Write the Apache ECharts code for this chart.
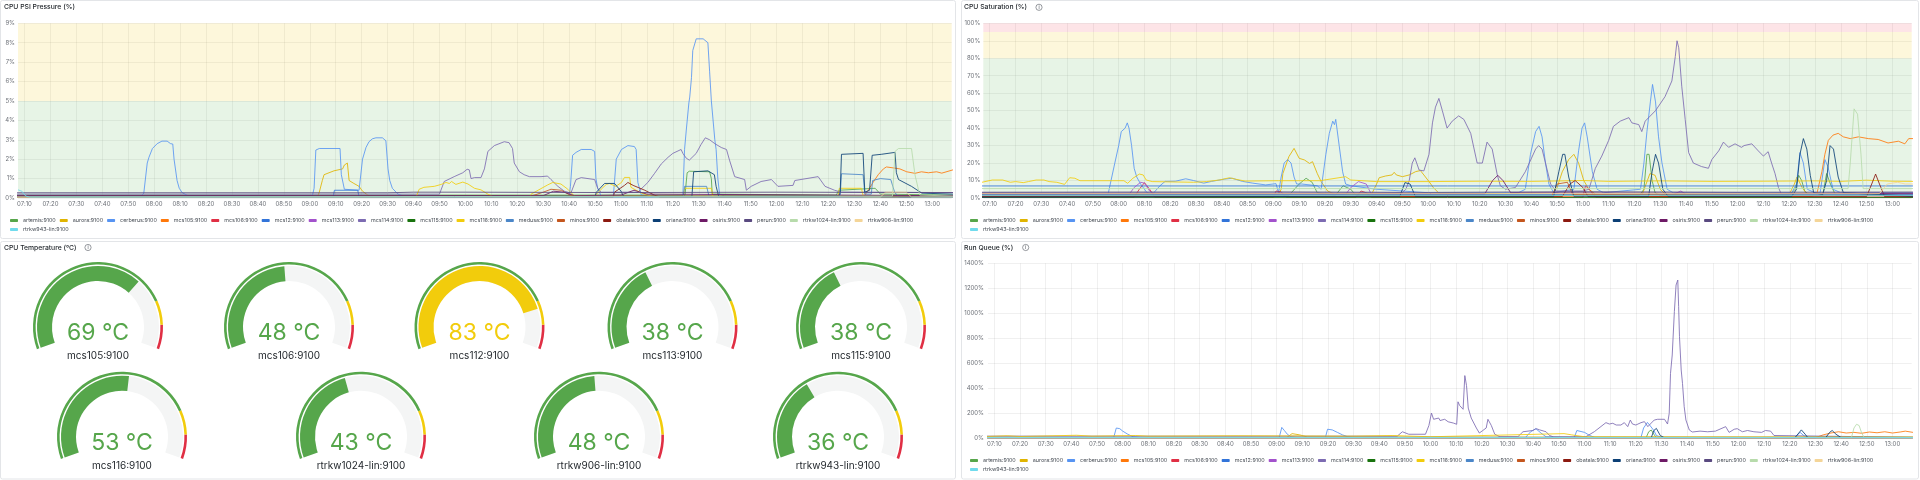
<!DOCTYPE html>
<html><head><meta charset="utf-8">
<script src="https://cdn.jsdelivr.net/npm/echarts@6/dist/echarts.min.js"></script>
<style>html,body{margin:0;padding:0;background:#fff}#c{width:1920px;height:480px}</style>
</head><body><div id="c"></div>
<script>
// ---------- shared ----------
const NAMES = ['artemis:9100','aurora:9100','cerberus:9100','mcs105:9100','mcs106:9100','mcs12:9100','mcs113:9100','mcs114:9100','mcs115:9100','mcs116:9100','medusa:9100','minos:9100','obatala:9100','oriana:9100','osiris:9100','perun:9100','rtrkw1024-lin:9100','rtrkw906-lin:9100','rtrkw943-lin:9100'];
const timeTicks = ['07:10','07:20','07:30','07:40','07:50','08:00','08:10','08:20','08:30','08:40','08:50','09:00','09:10','09:20','09:30','09:40','09:50','10:00','10:10','10:20','10:30','10:40','10:50','11:00','11:10','11:20','11:30','11:40','11:50','12:00','12:10','12:20','12:30','12:40','12:50','13:00'];
const timeRange = ['07:07:30','13:07:30'];

// ---------- CPU PSI Pressure (%) ----------
const psiThresholds = [0,5,9];
const psi_artemis = [['07:07',0.15],['11:24:40',0.15],['11:25:30',1.3],['11:26:20',1.38],['11:34:10',1.35],['11:34:50',1.0],['11:35:10',0.2],['12:23',0.15],['12:24',0.4],['12:38',0.5],['12:40',0.2],['13:08',0.15]];
const psi_aurora = [['07:07',0.05],['09:03',0.05],['09:03:40',0.3],['09:04:50',0.9],['09:05:30',1.2],['09:09:20',1.4],['09:12:40',1.5],['09:13:20',1.7],['09:14:30',1.8],['09:15:10',0.9],['09:17',0.75],['09:19',0.6],['09:20:20',0.35],['09:22:20',0.15],['09:24',0.05],['13:08',0.05]];
const psi_cerberus = [['07:07',0.1],['07:55',0.1],['07:56',0.25],['07:57:20',1.8],['07:58',2.1],['07:59:20',2.55],['08:01:10',2.8],['08:03',2.93],['08:05',2.93],['08:06:20',2.8],['08:07:10',2.78],['08:07:40',2.0],['08:08:50',0.9],['08:09:40',0.5],['08:10:50',0.27],['08:13',0.12],
 ['09:01',0.12],['09:01:40',0.5],['09:02:20',2.47],['09:03:40',2.55],['09:11:40',2.55],['09:12:10',1.2],['09:13:20',0.45],['09:19',0.4],['09:20:20',2.0],['09:21:40',2.6],['09:22:50',2.9],['09:24:10',3.05],['09:25:30',3.1],['09:28',3.1],['09:29:20',2.95],['09:30:10',1.5],['09:30:50',0.9],['09:31:50',0.5],['09:34',0.2],['09:36',0.1],
 ['10:40',0.1],['10:40:30',0.6],['10:41:20',2.2],['10:42:40',2.35],['10:44:40',2.5],['10:48:30',2.5],['10:49:50',2.4],['10:50:20',1.0],['10:51',0.5],['10:52:20',0.1],
 ['10:57',0.1],['10:57:10',0.3],['10:58:10',2.0],['11:00:10',2.5],['11:02:40',2.7],['11:05:10',2.65],['11:05:50',2.5],['11:06:30',0.8],['11:07:50',0.15],
 ['11:23:50',0.1],['11:24:30',2.5],['11:25:10',3.5],['11:26:10',4.9],['11:26:30',5.2],['11:27:10',6.2],['11:27:40',7.6],['11:29',8.2],['11:31:40',8.2],['11:33:30',8.0],['11:34:10',6.5],['11:34:50',5.0],['11:36:10',3.0],['11:36:40',2.5],['11:37:20',1.0],['11:38',0.2],['11:40',0.1],['13:08',0.1]];
const psi_mcs105 = [['07:07',0.06],['12:33',0.08],['12:34',0.15],['12:35:20',0.4],['12:37:10',0.8],['12:39:10',1.2],['12:41:10',1.5],['12:42:20',1.6],['12:45',1.55],['12:47:30',1.5],['12:50:10',1.35],['12:53:20',1.27],['12:55:50',1.35],['12:58:30',1.3],['13:01:40',1.35],['13:03:40',1.28],['13:08',1.45]];
const psi_mcs106 = [['07:07',0.1],['13:08',0.1]];
const psi_mcs12 = [['07:07',0.03],['09:09',0.03],['09:09:30',0.4],['09:18:30',0.4],['09:19',0.03],['13:08',0.03]];
const psi_mcs113 = [['07:07',0.04],['13:08',0.04]];
const psi_mcs114 = [['07:07',0.2],['09:50',0.2],['09:50:40',0.3],['09:51:50',0.85],['09:52:30',0.95],['09:55:40',1.1],['09:59',1.3],['10:00:40',1.48],['10:01:30',1.45],['10:02:10',1.0],['10:03:30',1.05],['10:06',1.05],
 ['10:07:20',1.5],['10:08:40',2.4],['10:11:10',2.7],['10:15',2.9],['10:16:50',2.85],['10:18:10',2.55],['10:18:50',1.8],['10:20:50',1.35],['10:22:40',1.2],['10:24:40',1.1],['10:29:10',1.1],['10:31:40',1.13],['10:33',0.95],['10:35:40',0.6],['10:38:10',0.35],['10:40:40',0.25],['10:42:40',0.95],['10:44:40',1.05],['10:49:50',0.95],['10:51',0.5],['10:52:20',0.3],
 ['11:06:30',0.3],['11:10:20',0.8],['11:12:50',1.25],['11:15:30',1.75],['11:18:10',2.1],['11:20',2.3],['11:23:10',2.5],['11:23:50',2.3],['11:25:10',2.05],['11:26:20',1.95],['11:29',2.3],['11:30:50',2.75],['11:32:30',3.1],['11:34:10',3.0],['11:36:10',2.8],['11:38:40',2.6],['11:40:40',2.5],['11:41:50',1.95],['11:43:50',1.1],['11:47:40',0.95],['11:48:20',0.4],['11:50:10',0.6],['11:54',0.85],['11:58',0.95],['12:00:30',0.6],['12:06:20',0.65],['12:07',0.9],['12:16',1.1],['12:18:40',0.6],['12:22:20',0.4],['12:25',0.3],['13:08',0.28]];
const psi_mcs115 = [['07:07',0.1],['13:08',0.1]];
const psi_mcs116 = [['07:07',0.05],['09:41',0.05],['09:42:10',0.45],['09:44',0.55],['09:48',0.6],['09:50:40',0.7],['09:52:30',0.8],['09:53:50',0.75],['09:54:40',0.85],['09:56:20',0.7],['09:59',0.82],['10:01',0.72],['10:03:30',0.5],['10:06',0.42],['10:08:40',0.2],['10:11',0.05],
 ['10:25',0.05],['10:25:20',0.2],['10:31:40',0.67],['10:33:40',0.8],['10:36:50',0.72],['10:39:30',0.45],['10:42',0.1],
 ['10:49:50',0.1],['10:52:20',0.45],['10:54:20',0.7],['10:55:30',0.75],['10:58',0.6],['11:00:10',0.8],['11:01:20',1.06],['11:03:20',1.06],['11:03:50',0.55],['11:07:50',0.25],['11:12:50',0.05],
 ['11:24',0.05],['11:24:30',0.5],['11:34:50',0.5],['11:35:30',0.05],['12:23:40',0.05],['12:24:10',0.5],['12:32:40',0.5],['12:33:30',0.05],['13:08',0.05]];
const psi_medusa = [['07:07',0.05],['11:24',0.05],['11:24:30',0.6],['11:33',0.6],['11:34',0.05],['12:24:30',0.05],['12:25',1.25],['12:33:20',1.2],['12:34',0.2],['12:36:30',0.2],['12:37',0.9],['12:40',1.0],['12:44',0.95],['12:45:30',0.3],['12:47',0.05],['13:08',0.05]];
const psi_minos = [['07:07',0.08],['10:25',0.08],['10:30',0.3],['10:33',0.45],['10:37',0.4],['10:41',0.1],['13:08',0.08]];
const psi_obatala = [['07:07',0.05],['10:57',0.05],['10:57:30',0.3],['11:01:20',0.65],['11:02:40',0.8],['11:04:40',0.65],['11:09:10',0.4],['11:12:50',0.15],['11:15',0.05],['13:08',0.05]];
const psi_oriana = [['07:07',0.08],['10:50',0.08],['10:50:30',0.3],['10:53:40',0.75],['10:57:30',0.75],['11:00',0.35],['11:01',0.08],['11:27:20',0.08],['11:28',1.35],['11:33:30',1.4],['11:36',1.2],['11:36:40',0.6],['11:37:40',0.08],['12:24',0.1],['12:24:30',0.3],['12:25',2.25],['12:33:20',2.3],['12:34',0.3],['12:35:50',0.4],['12:36:50',2.2],['12:40:20',2.25],['12:45:40',2.35],['12:46:10',1.3],['12:47',0.95],['12:52',0.6],['12:56',0.25],['13:08',0.2]];
const psi_osiris = [['07:07',0.12],['10:30',0.12],['10:34',0.35],['10:38',0.3],['10:42',0.12],['11:00',0.15],['11:05',0.4],['11:10',0.2],['13:08',0.12]];
const psi_perun = [['07:07',0.27],['09:30',0.27],['09:40',0.3],['10:00',0.3],['11:00',0.28],['12:00',0.3],['13:08',0.28]];
const psi_rtrkw1024 = [['07:07',0.05],['12:44:40',0.1],['12:45:40',2.4],['12:47',2.55],['12:52',2.55],['12:53:20',1.2],['12:55:10',0.15],['13:08',0.1]];
const psi_rtrkw906 = [['07:07',0.05],['12:40',0.05],['12:42',0.3],['12:50',0.3],['12:52',0.05],['13:08',0.05]];
const psi_rtrkw943 = [['07:07:30',0.42],['07:09',0.35],['07:10:30',0.1],['07:12',0.05],['13:08',0.05]];

// ---------- CPU Saturation (%) ----------
const satThresholds = [0,80,95,100];
const sat_artemis = [['07:07',1.5],['09:06',1.5],['09:10',8],['09:12:40',11.3],['09:15',9],['09:17',3],['09:24',1.5],['09:27',7],['09:30',5],['09:32',1.5],['11:22',1.5],['11:23:40',5],['11:24:50',25],['11:25:40',25],['11:26:50',10],['11:28',3],['11:30',1.5],['12:20',1.5],['12:22:20',5],['12:23:40',13],['12:24:50',10],['12:26',4],['12:28',1.5],['12:33',1.5],['12:34:30',14],['12:36',8],['12:38',1.5],['13:08',1.5]];
const sat_aurora = [['07:07',2.0],['09:02',2.0],['09:03',5],['09:03:40',14],['09:06',23.7],['09:08',28.4],['09:08:40',29.4],['09:10',22.7],['09:12',21.8],['09:14',19.8],['09:15:10',20.8],['09:17',14],['09:18:30',9.4],['09:21',4],['09:24',2],['09:38',2],['09:40',8],['09:41',11.6],['09:43:30',12.6],['09:46',13.2],['09:46:50',14.7],['09:47:40',13.2],['09:50',12.2],['09:52:40',13.2],['09:55:10',15.1],['09:57',15.7],['09:58:20',13.2],['10:00:20',9.4],['10:02',6],['10:04',3],['10:48',2],['10:50',6],['10:52',15],['10:54:30',22],['10:56:30',25],['10:58:20',20],['11:00:20',10],['11:02:20',5],['11:05',2],['11:23',2],['11:25',10],['11:26',14],['11:28',13],['11:30',5],['11:32',2],['12:20',2],['12:22',8],['12:23',12],['12:25',6],['12:27',2],['13:08',2]];
const sat_cerberus = [['07:07',1.0],['07:55',1.0],['07:56',3],['07:58:30',20],['08:00',30],['08:01',38],['08:02:30',40],['08:03:20',43],['08:04',40],['08:05',30],['08:06',17],['08:07',12],['08:08:30',8],['08:11',3],['08:13',2],['08:16',7],['08:18',9.5],['08:22',9.6],['08:26',11.0],['08:29',10],['08:33',8.5],['08:36',9.5],['08:41',10.8],['08:44',11.3],['08:48',9.5],['08:52',8.5],['08:57',7.5],['09:01',8.2],['09:02',3],['09:03',12],['09:04:10',20],['09:05:30',22],['09:06:50',20],['09:08',12],['09:09',8],['09:11',8],['09:17',7],['09:18:30',5],['09:20:20',25],['09:21:40',37],['09:23',44],['09:23:40',42],['09:24:10',45],['09:25:30',30],['09:26:50',15],['09:28',8],['09:30',7],['09:40',5],['10:00',3],
 ['10:35',3],['10:37:40',5],['10:39:40',25],['10:41:40',38],['10:43',41],['10:44:10',35],['10:45:30',20],['10:46:50',8],['10:48:40',3],['10:56:30',5],['10:58:20',27],['10:59:40',40],['11:00:40',43],['11:01:40',35],['11:03:40',15],['11:05:30',5],['11:08',3],
 ['11:22:20',5],['11:23:40',20],['11:24:50',38],['11:26:10',55],['11:27',65],['11:28:10',55],['11:29:20',35],['11:30:40',20],['11:32:40',5],['11:35',3],['12:21',3],['12:22:50',8],['12:24:10',26],['12:25:30',20],['12:27',5],['12:30',3],['12:32',3],['12:33:50',22],['12:35',18],['12:37',5],['12:40',3],['13:08',3]];
const sat_mcs105 = [['07:07',1.0],['12:29',1.0],['12:30:40',2],['12:32:40',15],['12:33:50',25],['12:35:10',33],['12:37',36],['12:39',37],['12:41',35],['12:43:40',34],['12:46:50',35],['12:50:40',34],['12:54:30',33.5],['12:58:20',31.5],['13:02:20',32.5],['13:04:50',31],['13:06:20',34],['13:08',34]];
const sat_mcs106 = [['07:07',0.5],['08:06',0.5],['08:08',5],['08:10',8.8],['08:12',5],['08:14',0.5],['09:00',0.5],['09:01',4],['09:03',3.5],['09:05',0.5],['09:32',0.5],['09:34',4],['09:36',3],['09:38',0.5],['11:00',0.5],['11:01',7],['11:03',4],['11:05',0.5],['13:08',0.5]];
const sat_mcs12 = [['07:07',6.9],['13:08',6.9]];
const sat_mcs113 = [['07:07',2],['08:04',2],['08:06',6],['08:08:30',9],['08:10',8.5],['08:12',4],['08:14',2],['09:28',2],['09:30',6],['09:33',9.4],['09:36',8],['09:38',2],['11:35',2],['11:38',4],['11:40',2],['13:08',2]];
const sat_mcs114 = [['07:07',3.0],['09:50',3.0],['09:51:20',5],['09:52:40',10],['09:53:50',20],['09:54:50',23],['09:56:30',16],['09:58:20',15.5],['10:00:20',25],['10:01:40',43],['10:02:50',52],['10:04:10',57],['10:05:30',50],['10:07:20',40],['10:09:20',44],['10:11:50',47],['10:13:50',45],['10:16:30',37],['10:19',20],['10:21',20],['10:22:50',32],['10:24:50',28],['10:26:50',13],['10:28',7],['10:30',5],['10:33:50',6],['10:37:40',15],['10:41:40',28],['10:42:50',30],['10:44:10',28],['10:45:30',20],['10:47:30',8],['10:49:30',4],['11:00',4],['11:02:20',5],['11:04:50',17],['11:07:20',24],['11:10',33],['11:11:50',41],['11:14:30',44],['11:17:50',46],['11:19',43],['11:21:40',42],['11:22:50',38],['11:24:10',44],['11:28:10',50],['11:31:50',58],['11:34:30',67],['11:35:50',81],['11:36:30',90],['11:37:10',86],['11:38:20',64],['11:39:40',45],['11:41',26],['11:42:50',20],['11:46',18],['11:48:40',17],['11:50',22],['11:52:40',27],['11:54:30',32],['11:56:30',29],['11:59',31],['12:01:30',29],['12:02:30',30],['12:05:30',31],['12:08',27],['12:10',24],['12:11:50',26.5],['12:13:10',20],['12:14:30',14],['12:15:50',6],['12:17',2],['12:20',2.5],['12:40',3],['13:08',3]];
const sat_mcs115 = [['07:07',0.3],['13:08',0.3]];
const sat_mcs116 = [['07:07',9.0],['07:11',10.3],['07:15',10.3],['07:18',9.0],['07:20',9.4],['07:23',8.8],['07:25',9.4],['07:28',10.3],['07:31',10.3],['07:33',9.4],['07:36',9.0],['07:39',7.8],['07:41',11.6],['07:43',11.3],['07:45',9.9],['08:02',9.9],['08:03:30',8.4],['08:05:30',11.3],['08:08',13.7],['08:09:30',13.2],['08:10:40',10.3],['08:13',9.4],['08:29',9.0],['08:34',9.4],['08:39',10.3],['08:43',11.6],['08:45:30',10.7],['08:49',9.7],['09:02',9.9],['09:18',9.9],['09:28',12.2],['09:30',10.3],['09:40',9.4],['10:00',9.4],['10:20',9.6],['10:40',9.5],['11:00',10],['11:10',9.5],['11:30',9.8],['11:50',9.5],['12:10',9.6],['12:30',9.8],['12:40',9.5],['12:50',10.2],['13:00',9.6],['13:08',9.5]];
const sat_medusa = [['07:07',2],['13:08',2]];
const sat_minos = [['07:07',1.2],['10:48',1.2],['10:50',8],['10:54',9],['10:56',2],['13:08',1.2]];
const sat_obatala = [['07:07',0.8],['10:52',0.8],['10:55',8],['10:57',10],['11:00',6],['11:02',0.8],['12:50',0.8],['12:52',8],['12:53:30',13.7],['12:55',8],['12:57',0.8],['13:08',0.8]];
const sat_oriana = [['07:07',0.5],['09:49',1],['09:51',8.8],['09:53',8],['09:55',1],['10:48:40',1],['10:50:40',15],['10:52:10',25],['10:53',25],['10:54:30',12],['10:56:30',1],['11:25:30',1],['11:26:50',15],['11:28:10',25],['11:29:20',20],['11:31',5],['11:33',1],['12:21',1],['12:22:50',5],['12:24:10',25],['12:25:30',34],['12:26:50',28],['12:28:10',13],['12:29:30',3],['12:33',2],['12:34:30',10],['12:35:50',30],['12:37:10',28],['12:39',12],['12:41',3],['13:08',1]];
const sat_osiris = [['07:07',2.5],['10:22',2.5],['10:25',10],['10:27',13],['10:29',10],['10:32',3],['13:08',2.5]];
const sat_perun = [['07:07',3.3],['09:00',3.5],['10:00',3.2],['11:00',3.6],['12:00',3.3],['13:08',3.4]];
const sat_rtrkw1024 = [['07:07',5.4],['12:42:50',5.4],['12:43:40',20],['12:45:10',51],['12:46:30',48],['12:47:50',25],['12:48:40',5.4],['13:08',5.4]];
const sat_rtrkw906 = [['07:07',2.5],['12:55',2.5],['12:58',8],['13:02',9],['13:05',8],['13:08',8]];
const sat_rtrkw943 = [['07:07',1.5],['13:08',1.5]];

// ---------- Run Queue (%) ----------
const rq_artemis = [['07:07',3],['11:24',3],['11:25',50],['11:26',64],['11:27',30],['11:28',3],['13:08',3]];
const rq_aurora = [['07:07',5],['09:04',5],['09:06',35],['09:09',25],['09:12',8],['13:08',5]];
const rq_cerberus = [['07:07',5],['07:56:30',5],['07:57:30',80],['07:58:50',75],['08:00',55],['08:02',30],['08:04',10],['08:07',5],['09:01',5],['09:01:30',20],['09:02',85],['09:03',60],['09:04:10',30],['09:05:30',10],['09:08',5],['09:19',5],['09:19:50',70],['09:21:40',65],['09:23:40',45],['09:25:40',25],['09:27:40',10],['09:30',5],['10:37',5],['10:39',50],['10:41',75],['10:43',40],['10:45',10],['10:56',5],['10:57',60],['11:00',45],['11:02',20],['11:04',5],['11:22',5],['11:23',80],['11:24:30',125],['11:25:30',100],['11:27',60],['11:28',20],['11:30',5],['12:22',5],['12:24',45],['12:26',10],['13:08',5]];
const rq_mcs105 = [['07:07',3],['12:30',3],['12:33',25],['12:36',40],['12:39',50],['12:42',40],['12:45',45],['12:48',38],['12:51',48],['12:54',42],['12:57',50],['13:00',40],['13:03',48],['13:05',55],['13:08',45]];
const rq_mcs106 = [['07:07',4],['13:08',4]];
const rq_mcs12 = [['07:07',3],['13:08',3]];
const rq_mcs113 = [['07:07',4],['13:08',4]];
const rq_mcs114 = [['07:07',15],['09:47',15],['09:49',50],['09:51:30',30],['09:58',30],['09:59:20',100],['10:00:20',200],['10:01:10',150],['10:03:10',160],['10:03:40',140],['10:05:30',150],['10:06:50',130],['10:08:50',120],['10:10:10',110],['10:10:40',290],['10:11:20',260],['10:12:40',230],['10:13:20',500],['10:14',420],['10:14:40',240],['10:15:50',160],['10:17:50',80],['10:19',40],['10:20:20',60],['10:21:40',80],['10:22:20',150],['10:23:40',100],['10:25',30],['10:27',10],['10:34',10],['10:36',50],['10:39:50',60],['10:41:10',75],['10:42:30',65],['10:45',50],['10:46:20',20],['10:48',8],
 ['11:00:30',10],['11:03:50',51],['11:08:20',123],['11:09:40',112],['11:11',118],['11:12:20',104],['11:14:10',104],['11:15:30',123],['11:16:10',131],['11:16:50',91],['11:17:50',144],['11:18:40',112],['11:20',104],['11:22',123],['11:23:20',131],['11:24:40',91],['11:26',120],['11:27:10',144],['11:28:30',150],['11:31:10',150],['11:32:20',112],['11:33',198],['11:33:30',518],['11:34:10',665],['11:34:20',670],['11:35',1013],['11:35:40',1226],['11:36:20',1266],['11:36:40',1053],['11:37',812],['11:37:40',545],['11:38:10',438],['11:38:50',251],['11:39:30',144],['11:40:50',64],['11:42',48],['11:45',55],['11:48',50],['11:51',55],['11:55',91],['11:56:20',45],['11:58:20',70],['11:59:30',75],['12:01:30',50],['12:03:30',60],['12:06',50],['12:09',45],['12:10:30',60],['12:12:30',55],['12:13:50',20],['12:14:30',5],['13:08',5]];
const rq_mcs115 = [['07:07',2],['13:08',2]];
const rq_mcs116 = [['07:07',12],['07:15',18],['07:20',12],['07:42',22],['07:48',15],['08:05',20],['08:10',15],['08:45',18],['09:30',15],['09:45',20],['10:00',10],['10:52',35],['10:55',25],['11:00',10],['13:08',8]];
const rq_medusa = [['07:07',4],['13:08',4]];
const rq_minos = [['07:07',3],['13:08',3]];
const rq_obatala = [['07:07',2],['13:08',2]];
const rq_oriana = [['07:07',3],['11:26',3],['11:27',60],['11:28',77],['11:29:30',20],['11:31',3],['12:22',3],['12:23:30',40],['12:24:30',65],['12:26',30],['12:27',3],['12:34',3],['12:35:30',45],['12:36:30',60],['12:38',30],['12:40',3],['13:08',3]];
const rq_osiris = [['07:07',3],['13:08',3]];
const rq_perun = [['07:07',5],['13:08',5]];
const rq_rtrkw1024 = [['07:07',3],['12:44',3],['12:45',80],['12:46',110],['12:47',100],['12:48',40],['12:49',3],['13:08',3]];
const rq_rtrkw906 = [['07:07',3],['13:08',3]];
const rq_rtrkw943 = [['07:07',4],['13:08',4]];

// ---------- CPU Temperature (°C) ----------
const gaugeNames = ['mcs105:9100','mcs106:9100','mcs112:9100','mcs113:9100','mcs115:9100','mcs116:9100','rtrkw1024-lin:9100','rtrkw906-lin:9100','rtrkw943-lin:9100'];
const gaugeValues = [69,48,83,38,38,53,43,48,36];
const tempThresholds = [80,90];
const tempRange = [0,100];

// ---------- styles / layout ----------
const COLORS = ['#56A64B','#E0B400','#5794F2','#FF780A','#E02F44','#3274D9','#A352CC','#7D6BB2','#19730E','#F2CC0C','#4B86C8','#C4561D','#8C1A10','#0B3F75','#6E1A66','#5A4A80','#B7DBAB','#F4D598','#70DBED'];
const gaugeCenters = [[98,327],[289,327],[479.5,327],[672.5,327],[861,327],[122,436.7],[361,436.7],[599,436.7],[838,436.7]];
const FONT = 'Inter, "Noto Sans", sans-serif';
const GREEN='#56A64B', YELLOW='#F2CC0C', RED='#E02F44';

function tm(s){const p=s.split(':').map(Number);return p[0]*60+p[1]+(p[2]||0)/60;}
function pad(n){return (n<10?'0':'')+n;}
function fmtTime(v){v=Math.round(v);return pad(Math.floor(v/60))+':'+pad(v%60);}
const tickVals = timeTicks.map(tm);

const psiList=[psi_artemis,psi_aurora,psi_cerberus,psi_mcs105,psi_mcs106,psi_mcs12,psi_mcs113,psi_mcs114,psi_mcs115,psi_mcs116,psi_medusa,psi_minos,psi_obatala,psi_oriana,psi_osiris,psi_perun,psi_rtrkw1024,psi_rtrkw906,psi_rtrkw943];
const satList=[sat_artemis,sat_aurora,sat_cerberus,sat_mcs105,sat_mcs106,sat_mcs12,sat_mcs113,sat_mcs114,sat_mcs115,sat_mcs116,sat_medusa,sat_minos,sat_obatala,sat_oriana,sat_osiris,sat_perun,sat_rtrkw1024,sat_rtrkw906,sat_rtrkw943];
const rqList=[rq_artemis,rq_aurora,rq_cerberus,rq_mcs105,rq_mcs106,rq_mcs12,rq_mcs113,rq_mcs114,rq_mcs115,rq_mcs116,rq_medusa,rq_minos,rq_obatala,rq_oriana,rq_osiris,rq_perun,rq_rtrkw1024,rq_rtrkw906,rq_rtrkw943];

function lines(list, gi){
  return NAMES.map((n,i)=>({
    type:'line', name:n, xAxisIndex:gi, yAxisIndex:gi, z:3,
    data:list[i].map(p=>[tm(p[0]),p[1]]).sort((a,b)=>a[0]-b[0]),
    showSymbol:false, symbol:'none', animation:false,
    lineStyle:{width:1,color:COLORS[i],opacity:0.85}, itemStyle:{color:COLORS[i]},
    emphasis:{disabled:true}
  }));
}
function bands(gi, th, cols){
  const d=[];
  for(let k=0;k<th.length-1;k++) d.push([{yAxis:th[k],itemStyle:{color:cols[k]}},{yAxis:th[k+1]}]);
  return {type:'line', xAxisIndex:gi, yAxisIndex:gi, data:[], z:1, silent:true, markArea:{silent:true, data:d}};
}
const bandGreen='rgba(115,191,105,0.17)', bandYellow='rgba(242,204,12,0.15)', bandRed='rgba(242,73,92,0.15)';

const gridDefs=[
  {left:18, top:23.3, width:933.7, height:174.7},
  {left:983.3, top:23.3, width:928.4, height:174.7},
  {left:988, top:263.3, width:923.7, height:174.7}
];
const yDefs=[{max:9,interval:1,margin:3},{max:100,interval:10,margin:3},{max:1400,interval:200,margin:4}];
const axisText={color:'#6c7077', fontSize:6, fontFamily:FONT};
const splitC='rgba(36,41,46,0.07)';

const xAxes = gridDefs.map((g,i)=>({type:'value', gridIndex:i, min:tm(timeRange[0]), max:tm(timeRange[1]),
  axisLine:{show:false}, axisTick:{show:false, customValues:tickVals},
  axisLabel:Object.assign({customValues:tickVals, formatter:fmtTime, margin:3}, axisText),
  splitLine:{show:true, lineStyle:{color:splitC, width:1}}}));
const yAxes = yDefs.map((y,i)=>({type:'value', gridIndex:i, min:0, max:y.max, interval:y.interval,
  axisLine:{show:false}, axisTick:{show:false},
  axisLabel:Object.assign({formatter:v=>v+'%', margin:y.margin}, axisText),
  splitLine:{show:true, lineStyle:{color:splitC, width:1}}}));

const legendBase = {data:NAMES, orient:'horizontal', itemWidth:8, itemHeight:3, itemGap:4, icon:'roundRect', width:945,
  textStyle:{fontSize:5.4, color:'#464c54', fontFamily:FONT}, selectedMode:false};
const legends=[Object.assign({left:5, top:213},legendBase), Object.assign({left:965, top:213},legendBase), Object.assign({left:965, top:453},legendBase)];

// gauges
const gaugeSeries=[];
gaugeValues.forEach((v,i)=>{
  const c = v>=tempThresholds[1]?RED:(v>=tempThresholds[0]?YELLOW:GREEN);
  const span = tempRange[1]-tempRange[0];
  gaugeSeries.push({type:'gauge', center:gaugeCenters[i], radius:65, startAngle:200, endAngle:-20, min:tempRange[0], max:tempRange[1], z:2, silent:true,
    axisLine:{lineStyle:{width:2.6, color:[[(tempThresholds[0]-tempRange[0])/span,GREEN],[(tempThresholds[1]-tempRange[0])/span,YELLOW],[1,RED]]}},
    splitLine:{show:false}, axisTick:{show:false}, axisLabel:{show:false}, pointer:{show:false}, anchor:{show:false}, title:{show:false}, detail:{show:false},
    data:[{value:v}]});
  gaugeSeries.push({type:'gauge', center:gaugeCenters[i], radius:61, startAngle:200, endAngle:-20, min:tempRange[0], max:tempRange[1], z:3, silent:true,
    progress:{show:true, width:15, itemStyle:{color:c}},
    axisLine:{lineStyle:{width:15, color:[[1,'#F4F5F5']]}},
    splitLine:{show:false}, axisTick:{show:false}, axisLabel:{show:false}, pointer:{show:false}, anchor:{show:false},
    title:{show:true, offsetCenter:[0,29], fontSize:10, color:'#24292e', fontFamily:FONT},
    detail:{show:true, offsetCenter:[0,6], fontSize:23, color:c, fontFamily:FONT, fontWeight:'normal', formatter:'{value} °C', valueAnimation:false},
    data:[{value:v, name:gaugeNames[i]}]});
});

// panels & titles
const panels=[[0.5,0.5,955,238],[961.5,0.5,957,238],[0.5,241.5,955,237.5],[961.5,241.5,957,237.5]];
const titles=[['CPU PSI Pressure (%)',4,7.3,null],['CPU Saturation (%)',964,7.3,1039],['CPU Temperature (°C)',4,247.5,88],['Run Queue (%)',964,247.5,1025.7]];
const graphics=[];
panels.forEach(p=>graphics.push({type:'rect', z:-10, shape:{x:p[0],y:p[1],width:p[2],height:p[3],r:2}, style:{fill:'#fff', stroke:'#e3e5e8', lineWidth:1}, silent:true}));
titles.forEach(t=>{
  graphics.push({type:'text', z:10, style:{text:t[0], x:t[1], y:t[2], fill:'#24292e', font:'500 6.8px '+FONT, verticalAlign:'middle'}, silent:true});
  if(t[3]){
    graphics.push({type:'circle', z:10, shape:{cx:t[3], cy:t[2], r:3.1}, style:{fill:'none', stroke:'#6c7077', lineWidth:0.7}, silent:true});
    graphics.push({type:'text', z:10, style:{text:'i', x:t[3], y:t[2]+0.3, fill:'#6c7077', font:'600 4.5px '+FONT, align:'center', verticalAlign:'middle'}, silent:true});
  }
});

const option={
  animation:false, backgroundColor:'#ffffff',
  textStyle:{fontFamily:FONT},
  grid:gridDefs.map(g=>Object.assign({containLabel:false},g)),
  xAxis:xAxes, yAxis:yAxes, legend:legends,
  graphic:{elements:graphics},
  series:[
    bands(0, psiThresholds, [bandGreen, bandYellow]),
    bands(1, satThresholds, [bandGreen, bandYellow, bandRed]),
    ...lines(psiList,0), ...lines(satList,1), ...lines(rqList,2),
    ...gaugeSeries
  ]
};
const chart=echarts.init(document.getElementById('c'),null,{renderer:'canvas'});
chart.setOption(option);
</script></body></html>
